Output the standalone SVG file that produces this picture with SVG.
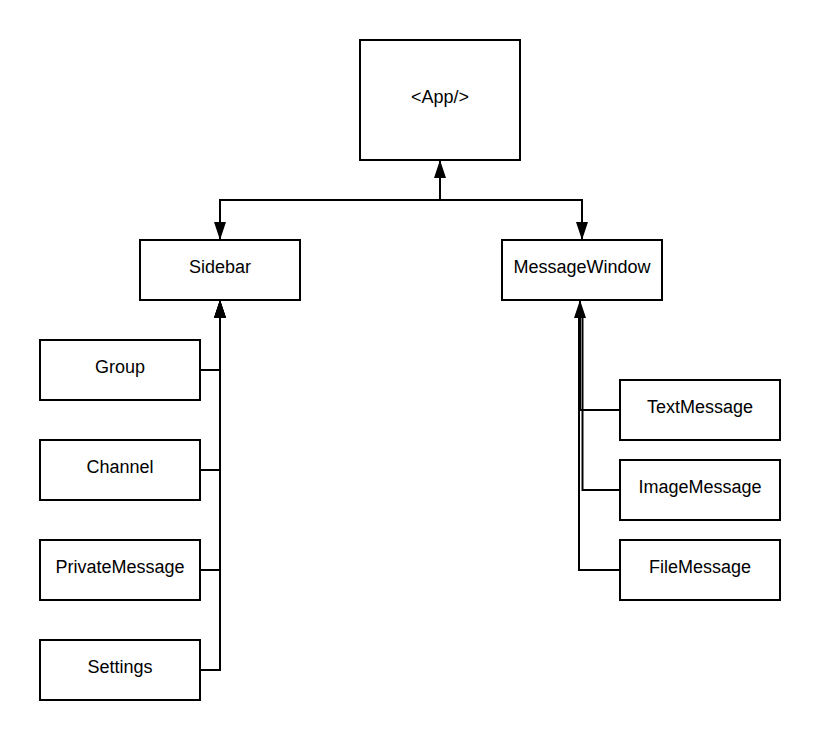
<svg xmlns="http://www.w3.org/2000/svg" width="820" height="740" viewBox="0 0 820 740">
<style>
.box{fill:#fff;stroke:#000;stroke-width:2}
.lbl{font-family:"Liberation Sans",Arial,sans-serif;font-size:18px;fill:#000;text-anchor:middle;dominant-baseline:central}
.c{fill:none;stroke:#000;stroke-width:2}
</style>
<defs>
<marker id="ah" viewBox="0 0 18 12" refX="17" refY="6" markerWidth="18" markerHeight="12" markerUnits="userSpaceOnUse" orient="auto">
<path d="M0,0 L18,6 L0,12 Z" fill="#000"/>
</marker>
</defs>
<rect width="820" height="740" fill="#fff"/>
<g id="connectors">
<path class="c" d="M440,200 L440,161" marker-end="url(#ah)"/>
<path class="c" d="M440,200 L220,200 L220,239" marker-end="url(#ah)"/>
<path class="c" d="M440,200 L582,200 L582,239" marker-end="url(#ah)"/>
<path class="c" d="M200,370 L220,370 L220,301" marker-end="url(#ah)"/>
<path class="c" d="M200,470 L220,470 L220,301" marker-end="url(#ah)"/>
<path class="c" d="M200,570 L220,570 L220,301" marker-end="url(#ah)"/>
<path class="c" d="M200,670 L220,670 L220,301" marker-end="url(#ah)"/>
<path class="c" d="M620,410 L580,410 L580,301" marker-end="url(#ah)"/>
<path class="c" d="M620,490 L582.5,490 L582.5,318"/>
<path class="c" d="M620,570 L579,570 L579,318"/>
</g>
<g id="app"><rect class="box" x="360" y="40" width="160" height="120"/><text class="lbl" x="440" y="97">&lt;App/&gt;</text></g>
<g id="sidebar"><rect class="box" x="140" y="240" width="160" height="60"/><text class="lbl" x="220" y="267">Sidebar</text></g>
<g id="messagewindow"><rect class="box" x="502" y="240" width="160" height="60"/><text class="lbl" x="582" y="267">MessageWindow</text></g>
<g id="group"><rect class="box" x="40" y="340" width="160" height="60"/><text class="lbl" x="120" y="367">Group</text></g>
<g id="channel"><rect class="box" x="40" y="440" width="160" height="60"/><text class="lbl" x="120" y="467">Channel</text></g>
<g id="privatemessage"><rect class="box" x="40" y="540" width="160" height="60"/><text class="lbl" x="120" y="567">PrivateMessage</text></g>
<g id="settings"><rect class="box" x="40" y="640" width="160" height="60"/><text class="lbl" x="120" y="667">Settings</text></g>
<g id="textmessage"><rect class="box" x="620" y="380" width="160" height="60"/><text class="lbl" x="700" y="407">TextMessage</text></g>
<g id="imagemessage"><rect class="box" x="620" y="460" width="160" height="60"/><text class="lbl" x="700" y="487">ImageMessage</text></g>
<g id="filemessage"><rect class="box" x="620" y="540" width="160" height="60"/><text class="lbl" x="700" y="567">FileMessage</text></g>
</svg>
